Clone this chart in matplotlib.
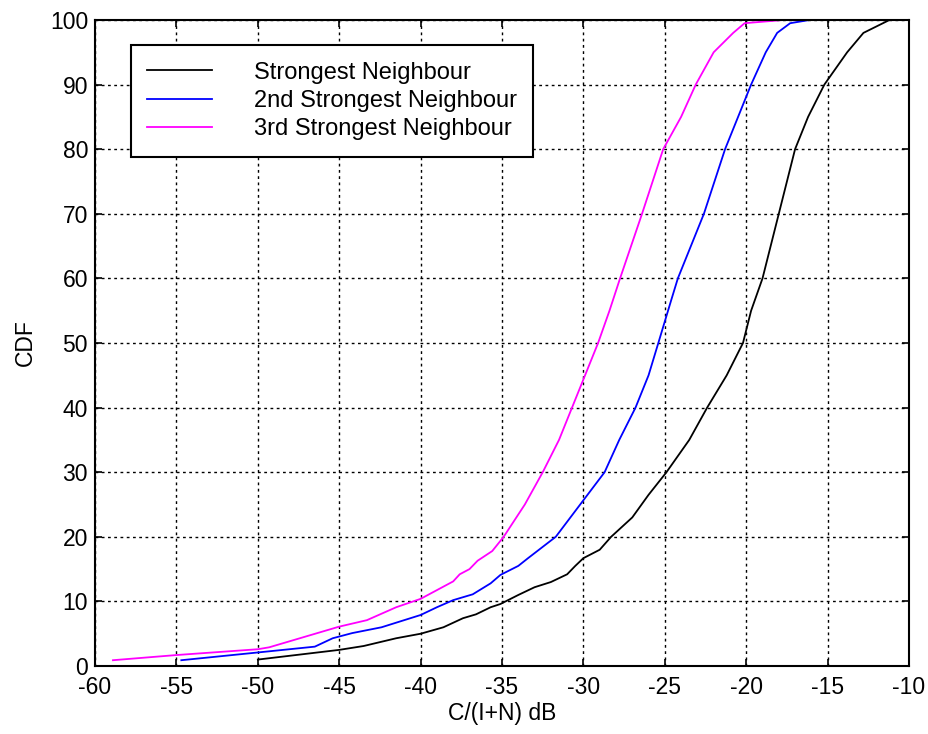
import matplotlib
matplotlib.use("Agg")
import matplotlib.pyplot as plt

plt.rcParams['font.family'] = ['Liberation Sans', 'DejaVu Sans']
plt.rcParams['axes.unicode_minus'] = False

# CDF curves (x in dB, y in percent)
strongest_x = [-50.0, -45.0, -43.5, -41.5, -40.0, -38.6, -37.4, -36.6, -35.7, -35.1,
               -34.0, -33.0, -32.0, -31.0, -30.5, -30.0, -29.0, -28.3, -27.0, -26.0,
               -24.9, -23.5, -22.4, -21.2, -20.2, -19.7, -19.0, -18.0, -17.0, -16.2,
               -15.2, -13.8, -12.8, -11.2]
strongest_y = [1.0, 2.5, 3.1, 4.3, 5.0, 6.0, 7.4, 8.0, 9.1, 9.6,
               11.0, 12.2, 13.0, 14.2, 15.5, 16.7, 18.0, 20.0, 23.0, 26.5,
               30.0, 35.0, 40.0, 45.0, 50.0, 55.0, 60.0, 70.0, 80.0, 85.0,
               90.0, 95.0, 98.0, 100.0]

second_x = [-54.7, -50.0, -46.5, -45.4, -44.2, -42.4, -40.0, -39.0, -38.0, -36.8,
            -35.7, -35.1, -34.0, -33.4, -31.7, -30.2, -28.7, -27.8, -26.8, -26.0,
            -25.4, -24.6, -24.2, -22.6, -21.3, -20.5, -19.7, -18.8, -18.1, -17.3,
            -16.1]
second_y = [0.9, 2.1, 3.0, 4.3, 5.1, 6.0, 7.9, 9.1, 10.2, 11.1,
            12.8, 14.1, 15.5, 16.7, 20.0, 25.0, 30.0, 35.0, 40.0, 45.0,
            50.0, 56.7, 60.0, 70.0, 80.0, 85.0, 90.0, 95.0, 98.0, 99.5,
            100.0]

third_x = [-58.9, -55.0, -50.0, -49.3, -45.0, -43.3, -41.5, -40.0, -38.0, -37.6,
           -37.0, -36.5, -35.6, -34.9, -33.6, -32.5, -31.5, -30.7, -29.9, -29.1,
           -28.4, -27.75, -26.4, -25.1, -24.0, -23.1, -22.0, -20.8, -20.1, -17.7]
third_y = [0.9, 1.7, 2.6, 2.9, 6.1, 7.1, 9.1, 10.4, 13.1, 14.2,
           15.0, 16.3, 17.8, 20.0, 25.0, 30.0, 35.0, 40.0, 45.0, 50.0,
           55.0, 60.0, 70.0, 80.0, 85.0, 90.0, 95.0, 98.0, 99.5, 100.0]

labels = ['Strongest Neighbour', '2nd Strongest Neighbour', '3rd Strongest Neighbour']
colors = ['black', 'blue', 'magenta']

fig = plt.figure(figsize=(9.29, 7.34), dpi=100)
ax = fig.add_axes([0.1023, 0.0926, 0.8762, 0.8802])

for xs, ys, lab, col in zip([strongest_x, second_x, third_x],
                            [strongest_y, second_y, third_y], labels, colors):
    ax.plot(xs, ys, color=col, linewidth=1.3, label=lab)

ax.set_xlim(-60, -10)
ax.set_ylim(0, 100)
ax.set_xticks(range(-60, -9, 5))
ax.set_yticks(range(0, 101, 10))
ax.grid(True, color='black', linestyle=(0, (2, 2.5)), linewidth=1.0)
ax.tick_params(direction='in', top=True, right=True, labelsize=16.5,
               length=5, width=1.2, pad=5)
ax.tick_params(axis='x', pad=7)
for sp in ax.spines.values():
    sp.set_linewidth(1.5)
ax.set_xlabel('C/(I+N) dB', fontsize=16.5, labelpad=2)
ax.set_ylabel('CDF', fontsize=16.5, labelpad=9)

leg = ax.legend(loc='upper left', bbox_to_anchor=(0.044, 0.961), fontsize=17,
                fancybox=False, edgecolor='black', framealpha=1,
                handlelength=2.75, handletextpad=1.75, borderpad=0.7,
                labelspacing=0.27, borderaxespad=0)
leg.get_frame().set_linewidth(1.5)

fig.savefig('out.png', dpi=100)
